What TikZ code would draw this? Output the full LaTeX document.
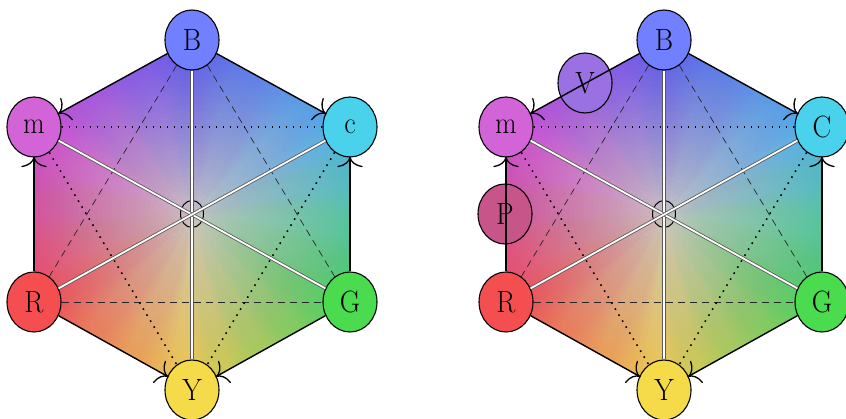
\documentclass[tikz,border=0pt]{standalone}
\usepackage{fontspec}
\usepackage{graphicx}
\usetikzlibrary{arrows.meta,shapes.geometric,decorations.markings}
\definecolor{nB}{HTML}{7080FF}
\definecolor{nM}{HTML}{D264D8}
\definecolor{nC}{HTML}{4AD2EC}
\definecolor{nR}{HTML}{F54E50}
\definecolor{nG}{HTML}{4ADC4E}
\definecolor{nY}{HTML}{F5DA4A}
\definecolor{nV}{HTML}{9A70E2}
\definecolor{nP}{HTML}{C8558A}
\definecolor{aR}{HTML}{F04050}
\definecolor{aY}{HTML}{F2D040}
\definecolor{aG}{HTML}{40D458}
\definecolor{aC}{HTML}{40B0F0}
\definecolor{aB}{HTML}{5050F4}
\definecolor{aM}{HTML}{C840DC}
\definecolor{hubgray}{HTML}{CCC4C4}
\tikzset{
  vert/.style={ellipse, draw=black, line width=1.1pt, minimum width=54pt,
    minimum height=60pt, inner sep=0pt, font=\fontsize{28}{28}\selectfont},
  hexedge/.style={line width=1.4pt, postaction={decorate, decoration={markings,
    mark=at position 1 with {\draw[line width=1.3pt, line cap=round]
      (-9pt,12pt) .. controls (-8pt,5pt) and (-4pt,1pt) .. (0pt,0pt)
      .. controls (-4pt,-1pt) and (-8pt,-5pt) .. (-9pt,-12pt);}}}},
  dbl/.style={draw=black!65, line width=0.8pt, double=white, double distance=1.8pt},
  dashline/.style={draw=black!85, line width=0.7pt, dash pattern=on 7pt off 5pt},
  dotline/.style={draw=black, line width=1.6pt, dash pattern=on 1.6pt off 5.4pt},
  hub/.style={line width=1pt}
}
\newcommand\vl[1]{\scalebox{1}[1.1]{#1}}
\newcommand\hexpic[3]{%
  \begin{scope}[shift={(#2,0)}]
    \begin{scope}
      \clip (192,40) -- (350,127) -- (350,302) -- (192,390) -- (34,302) -- (34,127) -- cycle;
      \begin{scope}[shift={(192,214)}]
        \foreach \st/\ca/\cb in {210/aR/aY,270/aY/aG,330/aG/aC,390/aC/aB,450/aB/aM,510/aM/aR}{
          \foreach \i in {0,...,39}{
            \pgfmathsetmacro\p{100-(\i+0.5)*2.5}
            \colorlet{wc}{\ca!\p!\cb}
            \fill[wc] (0,0) -- (-\st-\i*1.5+0.3:320) -- (-\st-\i*1.5-1.8:320) -- cycle;
          }
        }
        \foreach \n in {1,...,40}{
          \pgfmathsetmacro\op{1-(1-0.93*\n/40)/(1-0.93*(\n-1)/40)}
          \pgfmathsetmacro\rr{190*(41-\n)/40}
          \fill[hubgray, fill opacity=\op] (0,0) circle (\rr);
        }
      \end{scope}
    \end{scope}
    \draw[hub] (192,214) ellipse (11.5 and 13.5);
    \node[vert, fill=nB] (#1B) at (192,40) {\vl{B}};
    \node[vert, fill=nM] (#1m) at (34,127) {\vl{m}};
    \node[vert, fill=nC] (#1c) at (350,127) {\vl{#3}};
    \node[vert, fill=nR] (#1R) at (34,302) {\vl{R}};
    \node[vert, fill=nG] (#1G) at (350,302) {\vl{G}};
    \node[vert, fill=nY] (#1Y) at (192,390) {\vl{Y}};
  \end{scope}}
\newcommand\hexedges[1]{%
  \draw[dashline] (#1B) -- (#1R);
  \draw[dashline] (#1B) -- (#1G);
  \draw[dashline] (#1R) -- (#1G);
  \draw[dotline] (#1m) -- (#1c);
  \draw[dotline] (#1m) -- (#1Y);
  \draw[dotline] (#1c) -- (#1Y);
  \draw[dbl] (#1B) -- (#1Y);
  \draw[dbl] (#1m) -- (#1G);
  \draw[dbl] (#1c) -- (#1R);
  \draw[hexedge] (#1B) -- (#1m);
  \draw[hexedge] (#1B) -- (#1c);
  \draw[hexedge] (#1R) -- (#1m);
  \draw[hexedge] (#1G) -- (#1c);
  \draw[hexedge] (#1R) -- (#1Y);
  \draw[hexedge] (#1G) -- (#1Y);}
\begin{document}
\begin{tikzpicture}[x=1pt,y=-1pt]
  \useasboundingbox (0,0) rectangle (846,419);
  \hexpic{L}{0}{c}
  \hexpic{Q}{472}{C}
  \node[vert, fill=nV] (V) at (585,83) {\vl{V}};
  \node[vert, fill=nP] (P) at (505,214) {\vl{P}};
  \hexedges{L}
  \hexedges{Q}
\end{tikzpicture}
\end{document}
